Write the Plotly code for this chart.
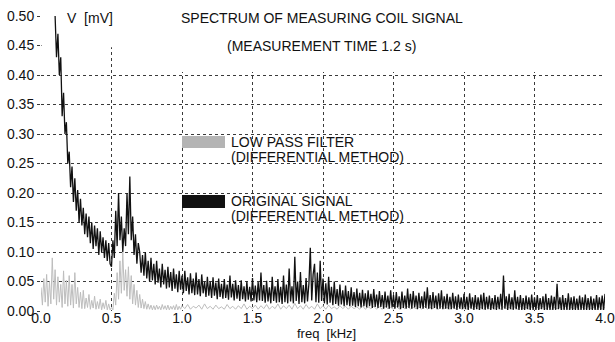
import numpy as np
import plotly.graph_objects as go

# ---------------- data ----------------
# ORIGINAL SIGNAL (differential method), 0.01 kHz steps starting at 0.09 kHz
orig_start = 0.09
orig_values = [
    0.53,
    0.50, 0.43, 0.47, 0.40, 0.43, 0.33, 0.37, 0.30, 0.32, 0.25,
    0.27, 0.21, 0.245, 0.185, 0.225, 0.17, 0.205, 0.15, 0.19, 0.145,
    0.175, 0.13, 0.165, 0.125, 0.16, 0.115, 0.15, 0.105, 0.145, 0.11,
    0.14, 0.095, 0.135, 0.1, 0.125, 0.09, 0.12, 0.085, 0.115, 0.08,
    0.075, 0.12, 0.09, 0.17, 0.11, 0.2, 0.12, 0.16, 0.1, 0.14,
    0.11, 0.2, 0.13, 0.228, 0.12, 0.16, 0.095, 0.13, 0.08, 0.115,
    0.1, 0.065, 0.095, 0.06, 0.1, 0.055, 0.085, 0.05, 0.09, 0.052,
    0.08, 0.045, 0.085, 0.048, 0.072, 0.04, 0.08, 0.045, 0.07, 0.038,
    0.075, 0.04, 0.066, 0.034, 0.072, 0.038, 0.062, 0.032, 0.068, 0.036,
    0.06, 0.03, 0.068, 0.034, 0.057, 0.028, 0.064, 0.03, 0.055, 0.027,
    0.065, 0.028, 0.054, 0.025, 0.062, 0.03, 0.05, 0.024, 0.058, 0.026,
    0.05, 0.022, 0.057, 0.026, 0.048, 0.02, 0.055, 0.024, 0.046, 0.021,
    0.054, 0.022, 0.045, 0.019, 0.06, 0.023, 0.046, 0.018, 0.052, 0.021,
    0.044, 0.017, 0.052, 0.02, 0.042, 0.016, 0.05, 0.019, 0.041, 0.016,
    0.056, 0.018, 0.043, 0.015, 0.049, 0.018, 0.065, 0.017, 0.044, 0.014,
    0.051, 0.016, 0.04, 0.013, 0.058, 0.017, 0.042, 0.014, 0.054, 0.015,
    0.041, 0.012, 0.06, 0.015, 0.045, 0.013, 0.072, 0.016, 0.042, 0.013,
    0.092, 0.017, 0.05, 0.012, 0.066, 0.015, 0.044, 0.013, 0.056, 0.016,
    0.046, 0.107, 0.018, 0.062, 0.08, 0.015, 0.065, 0.014, 0.085, 0.017,
    0.055, 0.013, 0.047, 0.011, 0.058, 0.014, 0.041, 0.01, 0.05, 0.012,
    0.037, 0.009, 0.045, 0.011, 0.035, 0.008, 0.043, 0.01, 0.034, 0.008,
    0.04, 0.009, 0.032, 0.007, 0.038, 0.008, 0.031, 0.006, 0.036, 0.008,
    0.03, 0.006, 0.035, 0.008, 0.029, 0.005, 0.037, 0.007, 0.028, 0.005,
    0.034, 0.007, 0.027, 0.004, 0.033, 0.006, 0.026, 0.004, 0.035, 0.006,
    0.027, 0.004, 0.032, 0.006, 0.025, 0.003, 0.033, 0.005, 0.026, 0.004,
    0.038, 0.005, 0.029, 0.004, 0.034, 0.006, 0.026, 0.003, 0.031, 0.005,
    0.025, 0.004, 0.033, 0.005, 0.04, 0.004, 0.027, 0.003, 0.032, 0.005,
    0.026, 0.003, 0.03, 0.004, 0.035, 0.003, 0.025, 0.004, 0.029, 0.003,
    0.024, 0.003, 0.031, 0.004, 0.025, 0.002, 0.028, 0.004, 0.023, 0.003,
    0.029, 0.003, 0.024, 0.002, 0.03, 0.004, 0.023, 0.002, 0.027, 0.003,
    0.023, 0.002, 0.028, 0.003, 0.031, 0.002, 0.024, 0.003, 0.026, 0.002,
    0.022, 0.003, 0.027, 0.002, 0.024, 0.003, 0.029, 0.002, 0.06, 0.004,
    0.025, 0.002, 0.029, 0.003, 0.023, 0.002, 0.035, 0.003, 0.024, 0.002,
    0.027, 0.002, 0.022, 0.002, 0.026, 0.003, 0.023, 0.002, 0.028, 0.002,
    0.023, 0.002, 0.027, 0.002, 0.022, 0.003, 0.025, 0.002, 0.029, 0.002,
    0.022, 0.002, 0.026, 0.002, 0.024, 0.002, 0.046, 0.003, 0.023, 0.002,
    0.027, 0.002, 0.022, 0.002, 0.03, 0.002, 0.023, 0.002, 0.025, 0.002,
    0.021, 0.002, 0.026, 0.002, 0.023, 0.002, 0.028, 0.002, 0.022, 0.002,
    0.025, 0.002, 0.021, 0.002, 0.027, 0.002, 0.023, 0.002, 0.026, 0.002, 0.029,
]

# LOW PASS FILTER: 0.01 kHz steps from 0 to 0.99, then 0.02 kHz steps 1.00 .. 4.00
lp_values_fine = [
    0.04, 0.01, 0.055, 0.015, 0.062, 0.008, 0.05, 0.012, 0.09, 0.02,
    0.07, 0.01, 0.058, 0.015, 0.045, 0.006, 0.068, 0.012, 0.052, 0.008,
    0.06, 0.01, 0.045, 0.005, 0.065, 0.012, 0.04, 0.006, 0.032, 0.004,
    0.035, 0.004, 0.022, 0.006, 0.028, 0.003, 0.018, 0.005, 0.025, 0.003,
    0.016, 0.004, 0.02, 0.002, 0.014, 0.004, 0.018, 0.002, 0.012, 0.002,
    0.006, 0.002, 0.03, 0.01, 0.065, 0.02, 0.085, 0.03, 0.1, 0.035,
    0.07, 0.025, 0.075, 0.02, 0.06, 0.012, 0.045, 0.01, 0.035, 0.006,
    0.028, 0.005, 0.02, 0.004, 0.016, 0.003, 0.012, 0.003, 0.01, 0.002,
    0.009, 0.002, 0.01, 0.003, 0.008, 0.002, 0.011, 0.003, 0.009, 0.002,
    0.01, 0.002, 0.008, 0.003, 0.009, 0.002, 0.011, 0.002, 0.008, 0.003,
]
lp_values_coarse = [
    0.009, 0.004, 0.011, 0.003, 0.008, 0.005, 0.01, 0.003, 0.012, 0.004,
    0.008, 0.003, 0.01, 0.004, 0.007, 0.003, 0.011, 0.004, 0.008, 0.003,
    0.009, 0.004, 0.012, 0.003, 0.008, 0.004, 0.01, 0.003, 0.009, 0.004,
    0.011, 0.003, 0.008, 0.004, 0.012, 0.003, 0.009, 0.004, 0.01, 0.003,
    0.013, 0.004, 0.009, 0.003, 0.011, 0.004, 0.008, 0.003, 0.012, 0.004,
    0.009, 0.003, 0.01, 0.004, 0.007, 0.003, 0.009, 0.004, 0.008, 0.003,
    0.008, 0.004, 0.007, 0.003, 0.009, 0.003, 0.007, 0.004, 0.008, 0.003,
    0.007, 0.003, 0.008, 0.004, 0.006, 0.003, 0.008, 0.003, 0.007, 0.004,
    0.008, 0.003, 0.006, 0.004, 0.007, 0.003, 0.008, 0.003, 0.006, 0.004,
    0.007, 0.003, 0.008, 0.004, 0.006, 0.003, 0.007, 0.004, 0.008, 0.003,
    0.006, 0.003, 0.007, 0.004, 0.008, 0.003, 0.006, 0.003, 0.007, 0.004,
    0.006, 0.003, 0.008, 0.003, 0.007, 0.004, 0.006, 0.003, 0.007, 0.003,
    0.008, 0.004, 0.006, 0.003, 0.007, 0.003, 0.006, 0.004, 0.008, 0.003,
    0.007, 0.003, 0.006, 0.004, 0.007, 0.003, 0.008, 0.003, 0.006, 0.004,
    0.007, 0.003, 0.006, 0.003, 0.008, 0.004, 0.006, 0.003, 0.007, 0.003,
    0.006,
]

x_ticks = [0.0, 0.5, 1.0, 1.5, 2.0, 2.5, 3.0, 3.5, 4.0]
y_ticks = [0.00, 0.05, 0.10, 0.15, 0.20, 0.25, 0.30, 0.35, 0.40, 0.45, 0.50]

title_line1 = "SPECTRUM OF MEASURING COIL SIGNAL"
title_line2 = "(MEASUREMENT TIME 1.2 s)"
legend_low = ["LOW PASS FILTER", "(DIFFERENTIAL METHOD)"]
legend_orig = ["ORIGINAL SIGNAL", "(DIFFERENTIAL METHOD)"]

# ---------------- frequency grids ----------------
orig_freq = np.round(orig_start + 0.01 * np.arange(len(orig_values)), 3)
lp_freq = np.concatenate([
    np.round(0.01 * np.arange(len(lp_values_fine)), 3),
    np.round(1.0 + 0.02 * np.arange(len(lp_values_coarse)), 3),
])
lp_values = lp_values_fine + lp_values_coarse

FONT = "Liberation Sans, Arial, sans-serif"
GRID = "#3a3a3a"

fig = go.Figure()
fig.add_trace(go.Scatter(x=lp_freq, y=lp_values, mode="lines",
                         line=dict(color="#bdbdbd", width=1), showlegend=False))
fig.add_trace(go.Scatter(x=orig_freq, y=orig_values, mode="lines",
                         line=dict(color="#111111", width=1.3), showlegend=False))

# white boxes that hide the grid behind the heading texts
for x0, x1, y0, y1 in [(0.004, 4.0, 0.447, 0.497), (0.13, 4.0, 0.496, 0.52),
                       (0.75, 4.0, 0.405, 0.448)]:
    fig.add_shape(type="rect", xref="x", yref="y", x0=x0, x1=x1, y0=y0, y1=y1,
                  fillcolor="white", line=dict(width=0), layer="between")

# manual legend swatches
fig.add_shape(type="rect", xref="x", yref="y", x0=1.0, x1=1.305, y0=0.2763, y1=0.2966,
              fillcolor="#b4b4b4", line=dict(width=0))
fig.add_shape(type="rect", xref="x", yref="y", x0=1.0, x1=1.305, y0=0.1746, y1=0.1966,
              fillcolor="#111111", line=dict(width=0))

def note(text, x, y, xanchor="left", size=14, xref="x", yref="y"):
    fig.add_annotation(text=text, x=x, y=y, xref=xref, yref=yref, showarrow=False,
                       xanchor=xanchor, yanchor="middle",
                       font=dict(family=FONT, size=size, color="#111111"))

note(legend_low[0], 1.335, 0.2864)
note(legend_low[1], 1.335, 0.2610)
note(legend_orig[0], 1.335, 0.1864)
note(legend_orig[1], 1.335, 0.1610)
note(title_line1, 1.99, 0.4966, xanchor="center")
note(title_line2, 1.99, 0.4495, xanchor="center")
note("V  [mV]", 0.172, 0.4966)
note("freq  [kHz]", 0.507, -0.077, xanchor="center", xref="paper", yref="paper", size=13)

axis_common = dict(showgrid=True, gridcolor=GRID, griddash="dot", gridwidth=1,
                   zeroline=False, showline=False, automargin=False,
                   tickcolor=GRID,
                   tickfont=dict(family=FONT, size=14, color="#111111"))

fig.update_xaxes(range=[0, 4], tickvals=x_ticks, ticks="", ticklabelstandoff=-3,
                 ticktext=[f"{v:.1f}" for v in x_ticks], **axis_common)
fig.update_yaxes(range=[0, 0.5], tickvals=y_ticks, ticks="outside", ticklen=3,
                 ticktext=[f"{v:.2f}" for v in y_ticks], **axis_common)

fig.update_layout(width=615, height=342, margin=dict(l=41, r=10, t=16, b=31),
                  paper_bgcolor="white", plot_bgcolor="white",
                  font=dict(family=FONT))

fig.write_html("out.html")
